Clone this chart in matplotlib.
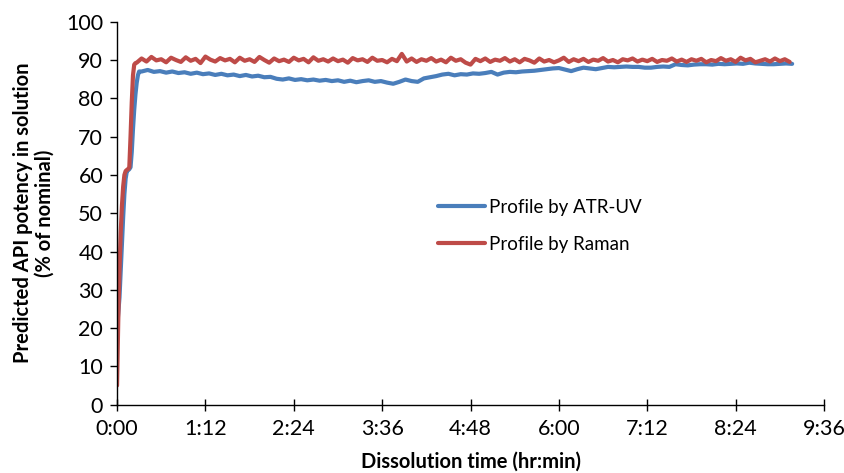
import matplotlib
matplotlib.use("Agg")
import matplotlib.pyplot as plt
from matplotlib.ticker import FuncFormatter, MultipleLocator

# ---- data (time in minutes, potency in % of nominal) ----
uv_time_early = [0, 1, 2, 3, 4, 5, 6, 7, 8, 9, 10, 11, 12, 13, 14, 15, 16, 17, 18]
uv_early = [20, 24, 28, 35, 42, 49, 55, 59, 61, 61.2, 61.5, 62, 66, 72, 77, 81, 84, 86, 87]
uv_time_plateau = list(range(20, 551, 5))
uv_plateau = [
    87.0, 87.4, 86.9, 87.1, 86.7, 87.0, 86.6, 86.8, 86.4, 86.7,
    86.3, 86.5, 86.1, 86.4, 86.0, 86.2, 85.8, 86.1, 85.7, 85.9,
    85.5, 85.6, 85.1, 84.9, 85.2, 84.8, 85.0, 84.7, 84.9, 84.6,
    84.8, 84.5, 84.7, 84.3, 84.6, 84.2, 84.5, 84.7, 84.3, 84.5,
    84.1, 83.8, 84.3, 84.9, 84.5, 84.3, 85.2, 85.5, 85.8, 86.2,
    86.4, 86.0, 86.3, 86.2, 86.5, 86.4, 86.6, 86.9, 86.2, 86.7,
    86.9, 86.8, 87.0, 87.1, 87.2, 87.4, 87.6, 87.8, 87.9, 87.5,
    87.1, 87.6, 88.0, 87.8, 87.6, 87.9, 88.2, 88.1, 88.2, 88.3,
    88.2, 88.2, 88.0, 88.0, 88.2, 88.3, 88.2, 88.9, 88.7, 88.6,
    88.8, 88.9, 88.9, 88.8, 89.0, 88.9, 89.0, 89.1, 89.0, 89.3,
    89.1, 89.0, 88.9, 88.9, 89.0, 89.1, 89.0,
]

raman_time_early = [0, 1, 2, 3, 4, 5, 6, 7, 8, 9, 10, 11, 12, 13, 14, 15]
raman_early = [5, 22, 35, 45, 52, 57, 60, 61, 61.3, 61.5, 62, 70, 79, 86, 88.8, 89.2]
raman_time_plateau = list(range(16, 549, 4))
raman_plateau = [
    89.3, 90.4, 89.6, 90.8, 89.9, 90.2, 89.4, 90.6, 90.0, 89.5,
    90.7, 89.8, 90.3, 89.2, 90.9, 90.1, 89.6, 90.5, 89.9, 90.3,
    89.4, 90.6, 89.8, 90.2, 89.5, 90.8, 90.0, 89.3, 90.4, 89.7,
    90.1, 89.5, 90.6, 89.9, 90.3, 89.4, 90.7, 89.8, 90.2, 89.6,
    90.4, 89.7, 90.1, 89.3, 90.5, 89.9, 90.2, 89.5, 90.6, 89.8,
    90.0, 89.4, 90.3, 89.7, 91.6, 89.6, 90.4, 89.5, 90.2, 89.8,
    90.5, 89.6, 90.1, 89.4, 90.6, 89.8, 90.2, 89.3, 88.8, 90.3,
    89.7, 90.4, 89.5, 90.1, 89.8, 90.5, 89.6, 90.2, 89.4, 90.3,
    89.9, 89.3, 90.4, 89.6, 90.0, 89.4, 89.9, 90.6, 89.5, 90.2,
    89.7, 90.3, 89.5, 90.1, 89.8, 90.5, 89.6, 90.0, 89.4, 90.2,
    89.9, 90.4, 89.6, 90.1, 89.7, 90.3, 89.5, 90.0, 89.8, 90.4,
    89.6, 90.1, 89.5, 90.2, 89.8, 90.3, 89.4, 90.0, 89.7, 90.5,
    89.8, 90.2, 89.5, 90.6, 89.9, 90.3, 89.4, 89.8, 90.2, 89.6,
    90.4, 89.7, 90.2, 89.5,
]

uv_time = uv_time_early + uv_time_plateau
uv_values = uv_early + uv_plateau
raman_time = raman_time_early + raman_time_plateau
raman_values = raman_early + raman_plateau

series_labels = ["Profile by ATR-UV", "Profile by Raman"]
x_label = "Dissolution time (hr:min)"
y_label = "Predicted API potency in solution\n(% of nominal)"

plt.rcParams['font.family'] = ['Lato', 'DejaVu Sans']

fig = plt.figure(figsize=(8.45, 4.73), dpi=100)
ax = fig.add_axes([0.1385, 0.1444, 0.8367, 0.8097])

ax.plot(uv_time, uv_values, color="#4A7EBB", lw=3.0, label=series_labels[0],
        solid_joinstyle="round", solid_capstyle="round")
ax.plot(raman_time, raman_values, color="#BE4B48", lw=3.0, label=series_labels[1],
        solid_joinstyle="round", solid_capstyle="round")

ax.set_xlim(0, 576)
ax.set_ylim(0, 100)
ax.xaxis.set_major_locator(MultipleLocator(72))
ax.yaxis.set_major_locator(MultipleLocator(10))
ax.xaxis.set_major_formatter(FuncFormatter(lambda v, p: f"{int(v)//60}:{int(v)%60:02d}"))

for s in ["top", "right"]:
    ax.spines[s].set_visible(False)
for s in ["left", "bottom"]:
    ax.spines[s].set_linewidth(1.0)
    ax.spines[s].set_color("black")

ax.tick_params(axis="y", direction="out", length=5, width=1, labelsize=15.5, pad=5)
ax.tick_params(axis="x", direction="inout", length=9, width=1, labelsize=15.5, pad=6)

ax.set_xlabel(x_label, fontsize=14.5, fontweight="bold", labelpad=9)
ax.set_ylabel(y_label, fontsize=14.5, fontweight="bold", labelpad=8, linespacing=1.15)

ax.legend(loc="center left", bbox_to_anchor=(0.43, 0.467), frameon=False,
          fontsize=13.5, handlelength=2.5, handletextpad=0.2, labelspacing=1.05)

fig.savefig("out.png", dpi=100)
